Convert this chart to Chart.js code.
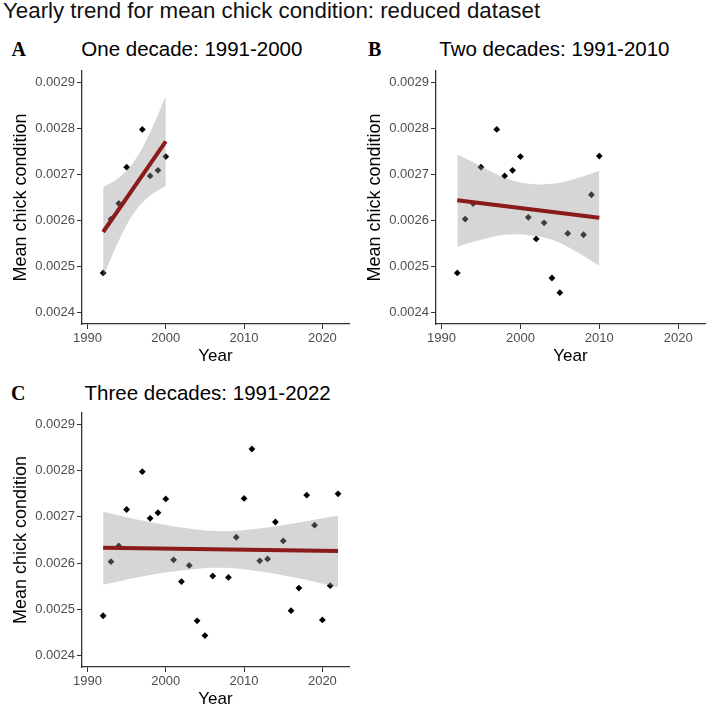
<!DOCTYPE html>
<html><head><meta charset="utf-8">
<script src="https://cdn.jsdelivr.net/npm/chart.js@4.4.1/dist/chart.umd.min.js"></script>
<style>
html,body{margin:0;padding:0;background:#fff;width:709px;height:709px;overflow:hidden;position:relative;}
.t{position:absolute;white-space:nowrap;line-height:1;font-family:'Liberation Sans',Arial,sans-serif;color:#000;}
.l{position:absolute;white-space:nowrap;line-height:1;font-family:'Liberation Serif','Times New Roman',serif;font-weight:bold;font-size:20px;color:#000;}
canvas{position:absolute;}
</style></head><body>
<div class="t" style="left:3px;top:-0.5px;font-size:22.3px;color:#111">Yearly trend for mean chick condition: reduced dataset</div>
<div class="l" style="left:11.5px;top:39.2px">A</div>
<div class="t" style="left:81.3px;top:39.3px;font-size:20.5px">One decade: 1991-2000</div>
<div class="l" style="left:368px;top:38.5px">B</div>
<div class="t" style="left:439.3px;top:38.8px;font-size:20.5px">Two decades: 1991-2010</div>
<div class="l" style="left:11px;top:382.5px">C</div>
<div class="t" style="left:84.6px;top:382.6px;font-size:20.5px">Three decades: 1991-2022</div>
<canvas id="cA" width="354" height="308" style="left:0;top:60px"></canvas>
<canvas id="cB" width="355" height="308" style="left:354px;top:60px"></canvas>
<canvas id="cC" width="354" height="331" style="left:0;top:380px"></canvas>
<script>
// ---- data ----
const years = [1992,1993,1994,1995,1997,1998,1999,2000,2001,2002,2003,2004,2005,2006,2008,2009,2010,2011,2012,2013,2014,2015,2016,2017,2018,2019,2020,2021,2022];
const condition = [0.002486,0.002603,0.002637,0.002716,0.002798,0.002697,0.002709,0.002739,0.002607,0.002560,0.002595,0.002475,0.002443,0.002572,0.002569,0.002656,0.002740,0.002847,0.002605,0.002609,0.002689,0.002648,0.002497,0.002546,0.002747,0.002682,0.002477,0.002551,0.002750];

const trendYearsA = [1992, 2000];
const trendA = [0.002575, 0.002772];
const trendYearsB = [1992, 2010];
const trendB = [0.002644, 0.002606];
const trendYearsC = [1992, 2022];
const trendC = [0.002633, 0.002626];

const bandYearsA = [1992, 1994, 1996, 1998, 2000];
const bandUpperA = [0.002673, 0.002693, 0.002730, 0.002792, 0.002870];
const bandLowerA = [0.002476, 0.002556, 0.002618, 0.002654, 0.002675];
const bandYearsB = [1992, 1995, 1998, 2001, 2004, 2007, 2010];
const bandUpperB = [0.002744, 0.002718, 0.002693, 0.002680, 0.002680, 0.002691, 0.002708];
const bandLowerB = [0.002543, 0.002558, 0.002569, 0.002568, 0.002558, 0.002533, 0.002501];
const bandYearsC = [1992, 1997, 2002, 2007, 2012, 2017, 2022];
const bandUpperC = [0.002711, 0.002692, 0.002677, 0.002669, 0.002675, 0.002688, 0.002703];
const bandLowerC = [0.002553, 0.002571, 0.002584, 0.002590, 0.002582, 0.002567, 0.002547];

const xTicks = [1990, 2000, 2010, 2020];
const yTicks = [0.0024, 0.0025, 0.0026, 0.0027, 0.0028, 0.0029];
const xMin = 1989.3, xMax = 2023.4;
const yMin = 0.002375, yMax = 0.002925;

// ---- drawing ----
const FONT = "'Liberation Sans', Arial, sans-serif";
const xy = (xs, ys) => xs.map((x, i) => ({x: x, y: ys[i]}));

function makePanel(id, lastYear, bandYears, bandUpper, bandLower, trendYears, trendVals, padTop, padRight) {
  const pts = [];
  years.forEach((y, i) => { if (y <= lastYear) pts.push({x: y, y: condition[i]}); });
  new Chart(document.getElementById(id), {
    type: 'line',
    data: {datasets: [
      {data: pts, showLine: false, pointStyle: 'rectRot', pointRadius: 3.4,
       pointBackgroundColor: '#000', pointBorderWidth: 0, order: 3},
      {data: xy(bandYears, bandLower), borderWidth: 0, pointRadius: 0, tension: 0.4, fill: false, order: 2},
      {data: xy(bandYears, bandUpper), borderWidth: 0, pointRadius: 0, tension: 0.4, fill: '-1',
       backgroundColor: 'rgba(153,153,153,0.4)', order: 2},
      {data: xy(trendYears, trendVals), borderColor: '#8b1a1a', borderWidth: 4, pointRadius: 0,
       fill: false, order: 1, borderCapStyle: 'butt'}
    ]},
    options: {
      responsive: false, animation: false, events: [],
      layout: {padding: {left: 0, top: padTop, right: padRight, bottom: 0}},
      plugins: {legend: {display: false}, tooltip: {enabled: false}, title: {display: false}},
      scales: {
        x: {type: 'linear', min: xMin, max: xMax,
          afterBuildTicks: s => { s.ticks = xTicks.map(v => ({value: v})); },
          afterFit: s => { s.height = 44; },
          ticks: {font: {size: 13, family: FONT}, color: '#4d4d4d', padding: 2, maxRotation: 0,
                  autoSkip: false, callback: v => String(v)},
          grid: {drawOnChartArea: false, drawTicks: true, tickLength: 5, tickColor: '#333', tickWidth: 1},
          border: {display: true, color: '#333', width: 1.3},
          title: {display: true, text: 'Year', font: {size: 17, family: FONT}, color: '#000',
                  padding: {top: 0, bottom: 1}}},
        y: {type: 'linear', min: yMin, max: yMax,
          afterBuildTicks: s => { s.ticks = yTicks.map(v => ({value: v})); },
          afterFit: s => { s.width = 82; },
          ticks: {font: {size: 13, family: FONT}, color: '#4d4d4d', padding: 2, autoSkip: false,
                  callback: v => Number(v).toFixed(4)},
          grid: {drawOnChartArea: false, drawTicks: true, tickLength: 5, tickColor: '#333', tickWidth: 1},
          border: {display: true, color: '#333', width: 1.3},
          title: {display: true, text: 'Mean chick condition', font: {size: 18, family: FONT}, color: '#000',
                  padding: {top: 10.5, bottom: 0}}}
      }
    }
  });
}

makePanel('cA', 2000, bandYearsA, bandUpperA, bandLowerA, trendYearsA, trendA, 11, 5);
makePanel('cB', 2010, bandYearsB, bandUpperB, bandLowerB, trendYearsB, trendB, 11, 3);
makePanel('cC', 2022, bandYearsC, bandUpperC, bandLowerC, trendYearsC, trendC, 33, 5);
</script>
</body></html>
